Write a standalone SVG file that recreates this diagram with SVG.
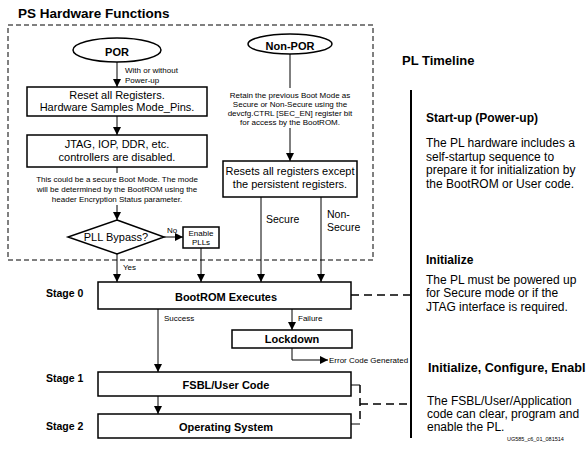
<svg xmlns="http://www.w3.org/2000/svg" width="587" height="454" viewBox="0 0 587 454">
<defs>
<marker id="ah" viewBox="0 0 10 10" refX="10" refY="5" markerWidth="9" markerHeight="8" markerUnits="userSpaceOnUse" orient="auto">
<path d="M0,0 L10,5 L0,10 z" fill="#000"/>
</marker>
<style>
text{font-family:"Liberation Sans",Arial,sans-serif;fill:#000}
.box{fill:#fff;stroke:#000;stroke-width:1.5}
.ln{fill:none;stroke:#000;stroke-width:1}
.arr{fill:none;stroke:#000;stroke-width:1;marker-end:url(#ah)}
.dash{fill:none;stroke:#000;stroke-width:1.5;stroke-dasharray:8,5}
.t11{font-size:11px;text-anchor:middle}
.t8{font-size:8px}
.t8m{font-size:8px;text-anchor:middle}
.hb{font-weight:bold}
.head{font-size:12px;font-weight:bold}
.body{font-size:12px}
</style>
</defs>
<rect width="587" height="454" fill="#fff"/>
<text x="18" y="18" class="hb" font-size="13.5">PS Hardware Functions</text>
<rect x="8" y="25" width="365" height="235" fill="none" stroke="#000" stroke-width="1" stroke-dasharray="5,3"/>
<text x="402" y="65" class="hb" font-size="13">PL Timeline</text>

<g id="connectors">
<line class="arr" x1="117" y1="62" x2="117" y2="87"/>
<line class="arr" x1="117" y1="116" x2="117" y2="135"/>
<line class="ln" x1="117" y1="167" x2="117" y2="173"/>
<line class="arr" x1="117" y1="205" x2="117" y2="220"/>
<line class="arr" x1="164" y1="237" x2="183" y2="237"/>
<line class="arr" x1="117" y1="254" x2="117" y2="282"/>
<line class="arr" x1="201" y1="248" x2="201" y2="282"/>
<line class="ln" x1="290" y1="54" x2="290" y2="88"/>
<line class="arr" x1="290" y1="128" x2="290" y2="161"/>
<line class="arr" x1="261" y1="197" x2="261" y2="282"/>
<line class="arr" x1="321" y1="197" x2="321" y2="282"/>
<line class="arr" x1="158" y1="309" x2="158" y2="372"/>
<line class="arr" x1="292" y1="309" x2="292" y2="330"/>
<polyline class="arr" points="292,348 292,360 328,360"/>
<line class="arr" x1="158" y1="396" x2="158" y2="414"/>
<line class="dash" x1="351" y1="295" x2="411" y2="295"/>
<polyline class="ln" points="351,385 360,385"/>
<polyline class="ln" points="351,424 360,424"/>
<line class="dash" x1="360" y1="385" x2="360" y2="424"/>
<line class="dash" x1="360" y1="404" x2="411" y2="404"/>
<line x1="411" y1="90" x2="411" y2="438" stroke="#000" stroke-width="2"/>
<text x="125" y="73" class="t8">With or without</text>
<text x="125" y="83" class="t8">Power-up</text>
<text x="167" y="233" class="t8">No</text>
<text x="123" y="270" class="t8">Yes</text>
<text x="266" y="223" font-size="10.5">Secure</text>
<text x="327" y="218" font-size="10.5">Non-</text>
<text x="327" y="231" font-size="10.5">Secure</text>
<text x="164" y="321" class="t8">Success</text>
<text x="298" y="321" class="t8">Failure</text>
<text x="329" y="363" class="t8">Error Code Generated</text>
</g>

<g id="por">
<ellipse cx="117" cy="50" rx="44" ry="12" class="box"/>
<text x="117" y="55.5" class="t11 hb" font-size="15">POR</text>
</g>
<g id="reset">
<rect x="27" y="87" width="180" height="29" class="box"/>
<text x="117" y="99" class="t11">Reset all Registers.</text>
<text x="117" y="111" class="t11">Hardware Samples Mode_Pins.</text>
</g>
<g id="jtag">
<rect x="27" y="135" width="180" height="32" class="box"/>
<text x="117" y="148" class="t11">JTAG, IOP, DDR, etc.</text>
<text x="117" y="161" class="t11">controllers are disabled.</text>
</g>
<g id="secure-note">
<text x="117" y="182" class="t8m">This could be a secure Boot Mode. The mode</text>
<text x="117" y="192" class="t8m">will be determined by the BootROM using the</text>
<text x="117" y="202" class="t8m">header Encryption Status parameter.</text>
</g>
<g id="pll-bypass">
<polygon points="117,220 164,237 117,254 68,237" class="box"/>
<text x="116" y="241" class="t11">PLL Bypass?</text>
</g>
<g id="enable-plls">
<rect x="183" y="227" width="36" height="21" class="box"/>
<text x="201" y="236" class="t8m">Enable</text>
<text x="201" y="245" class="t8m">PLLs</text>
</g>
<g id="non-por">
<ellipse cx="290" cy="44" rx="42" ry="10" class="box"/>
<text x="290" y="49.5" class="t11 hb" font-size="15">Non-POR</text>
</g>
<g id="retain-note">
<text x="290" y="98" class="t8m">Retain the previous Boot Mode as</text>
<text x="290" y="107" class="t8m">Secure or Non-Secure using the</text>
<text x="290" y="116" class="t8m">devcfg.CTRL [SEC_EN] register bit</text>
<text x="290" y="125" class="t8m">for access by the BootROM.</text>
</g>
<g id="resets">
<rect x="223" y="161" width="134" height="36" class="box"/>
<text x="290" y="175" class="t11">Resets all registers except</text>
<text x="290" y="188" class="t11">the persistent registers.</text>
</g>
<g id="bootrom">
<rect x="98" y="282" width="253" height="27" class="box"/>
<text x="226" y="300.5" class="t11 hb" font-size="14.5">BootROM Executes</text>
<text x="46" y="297" class="hb" font-size="10.5">Stage 0</text>
</g>
<g id="lockdown">
<rect x="232" y="330" width="120" height="18" class="box"/>
<text x="292" y="343" class="t11 hb" font-size="10.5">Lockdown</text>
</g>
<g id="fsbl">
<rect x="98" y="372" width="253" height="24" class="box"/>
<text x="226" y="389" class="t11 hb" font-size="14">FSBL/User Code</text>
<text x="46" y="382" class="hb" font-size="10.5">Stage 1</text>
</g>
<g id="os">
<rect x="98" y="414" width="253" height="24" class="box"/>
<text x="226" y="431" class="t11 hb" font-size="14">Operating System</text>
<text x="46" y="430" class="hb" font-size="10.5">Stage 2</text>
</g>
<g id="startup">
<text x="426" y="122" class="head">Start-up (Power-up)</text>
<text x="426" y="147" class="body">The PL hardware includes a</text>
<text x="426" y="161" class="body">self-startup sequence to</text>
<text x="426" y="174" class="body">prepare it for initialization by</text>
<text x="426" y="188" class="body">the BootROM or User code.</text>
</g>
<g id="initialize">
<text x="426" y="264" class="head">Initialize</text>
<text x="426" y="284" class="body">The PL must be powered up</text>
<text x="426" y="297" class="body">for Secure mode or if the</text>
<text x="426" y="311" class="body">JTAG interface is required.</text>
</g>
<g id="configure">
<text x="428" y="372" class="hb" font-size="12.6">Initialize, Configure, Enabl</text>
<text x="427" y="405" class="body">The FSBL/User/Application</text>
<text x="427" y="418" class="body">code can clear, program and</text>
<text x="427" y="431" class="body">enable the PL.</text>
</g>
<text x="507" y="441" font-size="5.5">UG585_c6_01_081514</text>
</svg>
